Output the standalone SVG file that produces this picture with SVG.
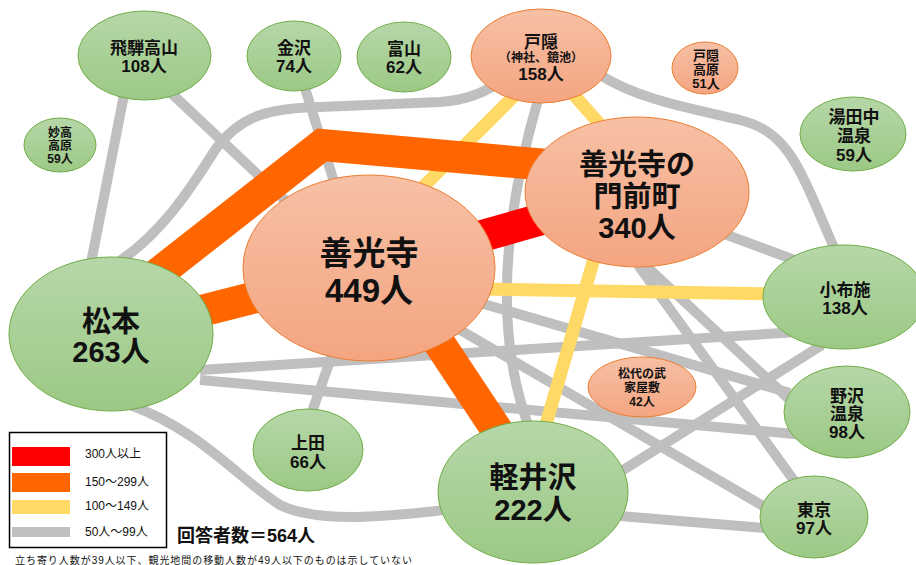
<svg xmlns="http://www.w3.org/2000/svg" width="916" height="565" viewBox="0 0 916 565">
<defs>
<linearGradient id="gG" x1="0" y1="0" x2="0" y2="1">
<stop offset="0" stop-color="#b6d7a8"/>
<stop offset="1" stop-color="#9cc985"/>
</linearGradient>
<linearGradient id="gO" x1="0" y1="0" x2="0" y2="1">
<stop offset="0" stop-color="#f7c0a5"/>
<stop offset="1" stop-color="#f4a581"/>
</linearGradient>
<style>
.g{fill:url(#gG);stroke:#70ad47;stroke-width:1}
.o{fill:url(#gO);stroke:#ed7d31;stroke-width:1}
text{font-family:"Liberation Sans","Noto Sans CJK JP",sans-serif;font-weight:700;fill:#111;text-anchor:middle;dominant-baseline:central}
.grey{fill:none;stroke:#bfbfbf;stroke-width:10}
.yel{fill:none;stroke:#ffd966;stroke-width:13}
.org{fill:none;stroke:#ff6600;stroke-width:32;stroke-linejoin:miter}
.red{fill:none;stroke:#ff0000;stroke-width:32}
.s17{font-size:17px}
.s13{font-size:13px}
.s12{font-size:12px}
.big{font-size:29px}
.leg{font-size:12px;font-weight:400;text-anchor:start}
</style>
</defs>
<rect width="916" height="565" fill="#fff"/>
<g id="connectors">
<path class="grey" d="M124 95 L90 268"/>
<path class="grey" d="M170 92 L290 205"/>
<path class="grey" d="M118 262 C160 235,190 190,215 150 C240 115,270 108,320 107 L440 102 C470 100,490 90,505 78"/>
<path class="grey" d="M305 88 L335 185"/>
<path class="grey" d="M538 100 Q480 300 530 430"/>
<path class="grey" d="M600 75 C640 100,690 108,740 120 C790 132,800 170,835 250"/>
<path class="grey" d="M700 225 L800 262"/>
<path class="grey" d="M645 265 L790 400"/>
<path class="grey" d="M638 265 L795 482"/>
<path class="grey" d="M200 370 L815 331"/>
<path class="grey" d="M200 380 L805 435"/>
<path class="grey" d="M130 405 C200 430,240 480,280 505 C320 525,400 515,445 510"/>
<path class="grey" d="M312 412 L332 355"/>
<path class="grey" d="M470 300 L790 393"/>
<path class="grey" d="M455 327 L770 510"/>
<path class="grey" d="M620 472 L822 345"/>
<path class="grey" d="M620 516 L765 528"/>
<path class="yel" d="M395 215 L530 80"/>
<path class="yel" d="M565 85 L605 130"/>
<path class="yel" d="M598 245 L540 445"/>
<path class="yel" d="M480 289 L780 294"/>
<path class="org" d="M150 280 L322 145 L570 167"/>
<path class="org" d="M111 334 L369 268"/>
<path class="org" d="M410 299 L520 465"/>
<path class="red" d="M369 268 L637 192"/>
</g>
<g id="hida"><ellipse class="g" cx="144.5" cy="55.5" rx="66.5" ry="44.5"/><text class="s17" x="144" y="48">飛騨高山</text><text class="s17" x="144" y="66">108人</text></g>
<g id="kanazawa"><ellipse class="g" cx="294" cy="56" rx="47" ry="35"/><text class="s17" x="294" y="48">金沢</text><text class="s17" x="294" y="66">74人</text></g>
<g id="toyama"><ellipse class="g" cx="404" cy="57" rx="47" ry="35"/><text class="s17" x="404" y="49">富山</text><text class="s17" x="404" y="67">62人</text></g>
<g id="myoko"><ellipse class="g" cx="60" cy="145" rx="36" ry="27"/><text class="s12" x="60" y="133">妙高</text><text class="s12" x="60" y="146">高原</text><text class="s12" x="60" y="159">59人</text></g>
<g id="togakushi"><ellipse class="o" cx="541" cy="56" rx="70" ry="47"/><text class="s17" x="541" y="42">戸隠</text><text class="s12" x="541" y="58">（神社、鏡池）</text><text class="s17" x="541" y="74">158人</text></g>
<g id="togakushi-kogen"><ellipse class="o" cx="705" cy="68" rx="33" ry="26"/><text class="s13" x="706" y="55">戸隠</text><text class="s13" x="706" y="69">高原</text><text class="s13" x="706" y="83">51人</text></g>
<g id="yudanaka"><ellipse class="g" cx="853" cy="134" rx="53" ry="37"/><text class="s17" x="854" y="117">湯田中</text><text class="s17" x="854" y="136">温泉</text><text class="s17" x="854" y="155">59人</text></g>
<g id="monzen"><ellipse class="o" cx="637" cy="192" rx="112" ry="75"/><text class="big" x="637" y="165">善光寺の</text><text class="big" x="637" y="197">門前町</text><text class="big" x="637" y="228">340人</text></g>
<g id="zenkoji"><ellipse class="o" cx="369" cy="268" rx="126" ry="93"/><text x="369" y="253" style="font-size:33px">善光寺</text><text x="369" y="290" style="font-size:33px">449人</text></g>
<g id="matsumoto"><ellipse class="g" cx="111" cy="334" rx="102" ry="77"/><text class="big" x="111" y="322">松本</text><text class="big" x="111" y="352">263人</text></g>
<g id="ueda"><ellipse class="g" cx="308" cy="450" rx="55" ry="41"/><text class="s17" x="308" y="443">上田</text><text class="s17" x="308" y="462">66人</text></g>
<g id="karuizawa"><ellipse class="g" cx="533" cy="492" rx="95" ry="71"/><text class="big" x="533" y="478">軽井沢</text><text class="big" x="533" y="510">222人</text></g>
<g id="obuse"><ellipse class="g" cx="844" cy="297" rx="81" ry="52"/><text class="s17" x="845" y="290">小布施</text><text class="s17" x="845" y="308">138人</text></g>
<g id="matsushiro"><ellipse class="o" cx="642" cy="387" rx="54" ry="30"/><text class="s12" x="642" y="374">松代の武</text><text class="s12" x="642" y="388">家屋敷</text><text class="s12" x="642" y="402">42人</text></g>
<g id="nozawa"><ellipse class="g" cx="847" cy="412" rx="63" ry="46"/><text class="s17" x="847" y="396">野沢</text><text class="s17" x="847" y="414">温泉</text><text class="s17" x="847" y="432">98人</text></g>
<g id="tokyo"><ellipse class="g" cx="814" cy="517" rx="54" ry="41"/><text class="s17" x="814" y="510">東京</text><text class="s17" x="814" y="528">97人</text></g>
<g id="legend">
<rect x="9.5" y="432.5" width="157" height="115" fill="#fff" stroke="#000" stroke-width="1.5"/>
<rect x="12" y="447" width="58" height="19" fill="#ff0000"/>
<rect x="12" y="473" width="58" height="19" fill="#ff6600"/>
<rect x="12" y="500" width="58" height="14" fill="#ffd966"/>
<rect x="12" y="527" width="58" height="10" fill="#bfbfbf"/>
<text class="leg" x="85" y="454">300人以上</text>
<text class="leg" x="85" y="482">150～299人</text>
<text class="leg" x="85" y="506">100～149人</text>
<text class="leg" x="85" y="532">50人～99人</text>
</g>
<text x="177" y="536" style="font-size:18px;text-anchor:start">回答者数＝564人</text>
<text x="15" y="560" style="font-size:10px;font-weight:400;text-anchor:start" textLength="397" lengthAdjust="spacing">立ち寄り人数が39人以下、観光地間の移動人数が49人以下のものは示していない</text>
</svg>
